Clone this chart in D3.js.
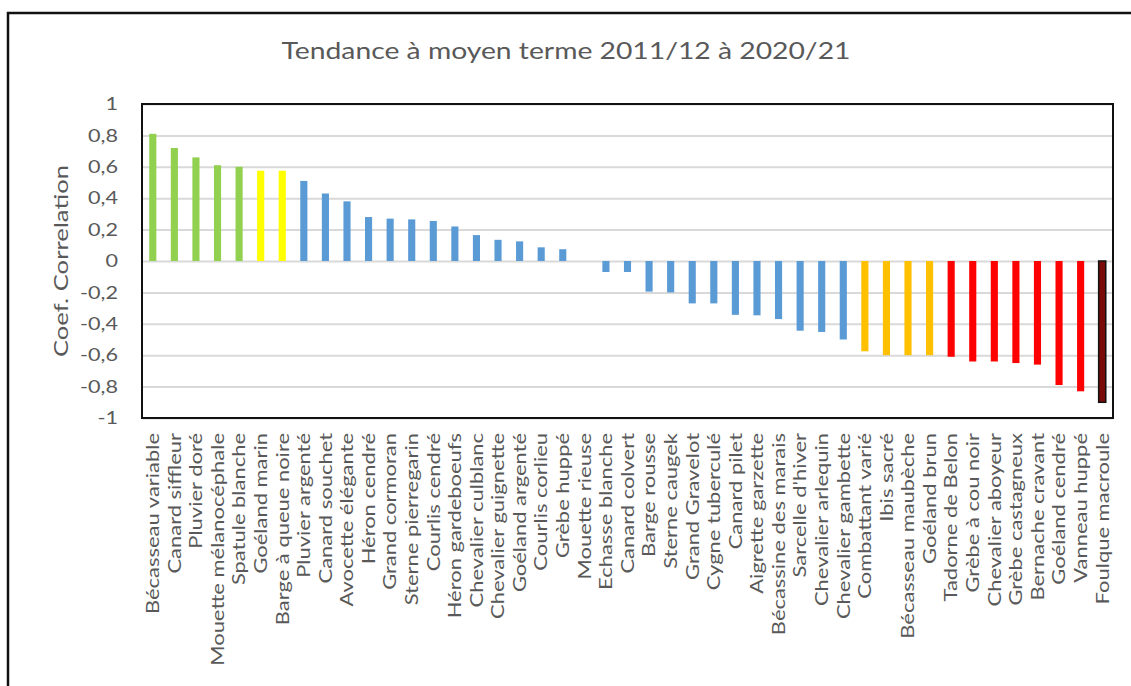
<!DOCTYPE html>
<html>
<head>
<meta charset="utf-8">
<script src="https://cdn.jsdelivr.net/npm/d3@7"></script>
<style>
  body { margin: 0; background: #fff; }
  text { font-family: Lato, 'Open Sans', sans-serif; fill: #595959; }
</style>
</head>
<body>
<div id="chart"></div>
<script>
// espèces, coefficient de corrélation et groupe de tendance
const species = [
  'Bécasseau variable', 'Canard siffleur', 'Pluvier doré', 'Mouette mélanocéphale',
  'Spatule blanche', 'Goéland marin', 'Barge à queue noire', 'Pluvier argenté',
  'Canard souchet', 'Avocette élégante', 'Héron cendré', 'Grand cormoran',
  'Sterne pierregarin', 'Courlis cendré', 'Héron gardeboeufs', 'Chevalier culblanc',
  'Chevalier guignette', 'Goéland argenté', 'Courlis corlieu', 'Grèbe huppé',
  'Mouette rieuse', 'Echasse blanche', 'Canard colvert', 'Barge rousse',
  'Sterne caugek', 'Grand Gravelot', 'Cygne tuberculé', 'Canard pilet',
  'Aigrette garzette', 'Bécassine des marais', "Sarcelle d'hiver", 'Chevalier arlequin',
  'Chevalier gambette', 'Combattant varié', 'Ibis sacré', 'Bécasseau maubèche',
  'Goéland brun', 'Tadorne de Belon', 'Grèbe à cou noir', 'Chevalier aboyeur',
  'Grèbe castagneux', 'Bernache cravant', 'Goéland cendré', 'Vanneau huppé',
  'Foulque macroule'
]

const coefs = [
  0.81, 0.72, 0.66, 0.61,
  0.60, 0.575, 0.575, 0.51,
  0.43, 0.38, 0.28, 0.27,
  0.265, 0.255, 0.22, 0.165,
  0.135, 0.125, 0.087, 0.075,
  0, -0.07, -0.07, -0.195,
  -0.2, -0.27, -0.27, -0.343,
  -0.346, -0.37, -0.444, -0.452,
  -0.50, -0.575, -0.60, -0.60,
  -0.60, -0.61, -0.64, -0.64,
  -0.65, -0.66, -0.79, -0.83,
  -0.90
]

const groups = [
  'forte hausse', 'forte hausse', 'forte hausse', 'forte hausse',
  'forte hausse', 'hausse', 'hausse', 'stable',
  'stable', 'stable', 'stable', 'stable',
  'stable', 'stable', 'stable', 'stable',
  'stable', 'stable', 'stable', 'stable',
  'stable', 'stable', 'stable', 'stable',
  'stable', 'stable', 'stable', 'stable',
  'stable', 'stable', 'stable', 'stable',
  'stable', 'baisse', 'baisse', 'baisse',
  'baisse', 'forte baisse', 'forte baisse', 'forte baisse',
  'forte baisse', 'forte baisse', 'forte baisse', 'forte baisse',
  'très forte baisse'
]

const yTicks = [1, 0.8, 0.6, 0.4, 0.2, 0, -0.2, -0.4, -0.6, -0.8, -1]

const title = 'Tendance à moyen terme 2011/12 à 2020/21'
const yTitle = 'Coef. Correlation'

const data = species.map((s, i) => ({ name: s, value: coefs[i], group: groups[i] }))

const width = 1131
const height = 686
const margin = { top: 104, right: 18, bottom: 268, left: 142 }
const innerW = width - margin.left - margin.right
const innerH = height - margin.top - margin.bottom

// le texte de la capture est un peu étiré dans le sens de la lecture
const stretchTitle = 1.23
const stretchTick = 1.2
const stretchLabel = 1.22
const stretchYTitle = 1.35

const svg = d3.select('#chart')
  .append('svg')
  .attr('width', width)
  .attr('height', height)

// cadre extérieur (coupé à droite et en bas)
svg.append('path')
  .attr('d', `M8,${height} V13 H${width}`)
  .attr('fill', 'none')
  .attr('stroke', '#111')
  .attr('stroke-width', 2.5)

svg.append('text')
  .attr('transform', `translate(566, 59) scale(${stretchTitle}, 1)`)
  .attr('text-anchor', 'middle')
  .style('font-size', '23px')
  .text(title)

const x = d3.scaleBand()
  .domain(species)
  .range([0, innerW])
  .paddingInner(0.67)
  .paddingOuter(0.335)

const y = d3.scaleLinear()
  .domain([-1, 1])
  .range([innerH, 0])

const color = d3.scaleOrdinal()
  .domain(['forte hausse', 'hausse', 'stable', 'baisse', 'forte baisse', 'très forte baisse'])
  .range(['#92d050', '#ffff00', '#5b9bd5', '#ffc000', '#ff0000', '#7a0a0a'])

const g = svg.append('g')
  .attr('transform', `translate(${margin.left}, ${margin.top})`)

// grille
g.append('g')
  .call(d3.axisLeft(y).tickValues(yTicks).tickSize(-innerW).tickFormat(''))
  .call(ax => ax.select('.domain').remove())
  .call(ax => ax.selectAll('line').attr('stroke', '#d9d9d9').attr('stroke-width', 2))

// libellés de l'axe y
g.append('g')
  .call(d3.axisLeft(y).tickValues(yTicks).tickSize(0)
    .tickFormat(d => d3.format('.1~f')(d).replace('.', ',').replace('−', '-')))
  .call(ax => ax.select('.domain').remove())
  .call(ax => ax.selectAll('text')
    .style('font-size', '18px')
    .style('font-family', 'Lato, sans-serif')
    .attr('fill', '#595959')
    .attr('x', 0)
    .attr('transform', `translate(-24, 0) scale(${stretchTick}, 1)`))

g.selectAll('.bar')
  .data(data)
  .join('rect')
  .attr('class', 'bar')
  .attr('x', d => x(d.name))
  .attr('width', x.bandwidth())
  .attr('y', d => y(Math.max(0, d.value)))
  .attr('height', d => Math.abs(y(d.value) - y(0)))
  .attr('fill', d => color(d.group))
  .attr('stroke', d => d.group === 'très forte baisse' ? '#111' : 'none')
  .attr('stroke-width', 1.5)

// bordure de la zone de tracé
g.append('rect')
  .attr('width', innerW)
  .attr('height', innerH)
  .attr('fill', 'none')
  .attr('stroke', '#111')
  .attr('stroke-width', 2)

// libellés des espèces
g.append('g')
  .attr('transform', `translate(0, ${innerH})`)
  .call(d3.axisBottom(x).tickSize(0))
  .call(ax => ax.select('.domain').remove())
  .call(ax => ax.selectAll('text')
    .style('font-size', '18px')
    .style('font-family', 'Lato, sans-serif')
    .attr('fill', '#595959')
    .attr('transform', `rotate(-90) scale(${stretchLabel}, 1)`)
    .attr('text-anchor', 'end')
    .attr('x', -15 / stretchLabel)
    .attr('y', 0)
    .attr('dy', '0.35em'))

svg.append('text')
  .attr('transform', `translate(68, ${margin.top + y(0)}) rotate(-90) scale(${stretchYTitle}, 1)`)
  .attr('text-anchor', 'middle')
  .style('font-size', '19px')
  .text(yTitle)
</script>
</body>
</html>
